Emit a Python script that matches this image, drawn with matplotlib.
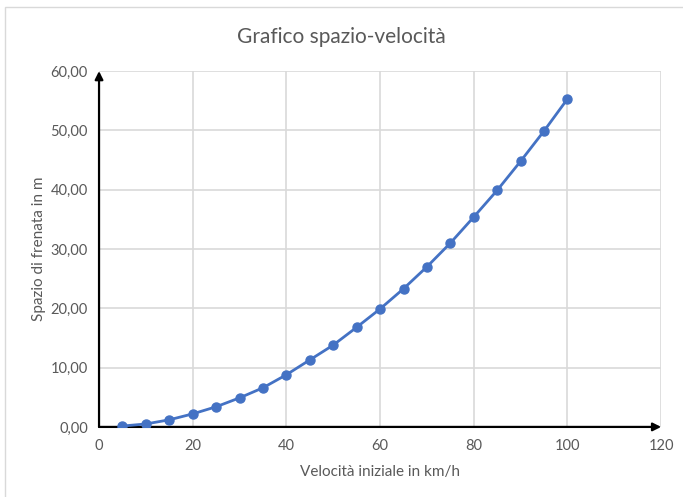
import matplotlib.pyplot as plt
from matplotlib.patches import Rectangle

# velocità iniziale (km/h) e spazio di frenata (m)
velocita = [5, 10, 15, 20, 25, 30, 35, 40, 45, 50,
            55, 60, 65, 70, 75, 80, 85, 90, 95, 100]
spazio = [0.15, 0.5, 1.2, 2.2, 3.4, 4.9, 6.6, 8.8, 11.3, 13.8,
          16.8, 19.9, 23.3, 27.0, 31.0, 35.4, 39.9, 44.8, 49.9, 55.3]

x_ticks = [0, 20, 40, 60, 80, 100, 120]
y_ticks = [0, 10, 20, 30, 40, 50, 60]

plt.rcParams['font.family'] = ['Lato', 'DejaVu Sans']
GREY = '#595959'
GRID = '#d9d9d9'
BLUE = '#4472C4'

fig = plt.figure(figsize=(6.83, 4.97), dpi=100)
ax = fig.add_axes([0.145, 0.141, 0.823, 0.716])

# outer chart frame
fig.patches.append(Rectangle((5 / 683, -0.1), 1.2, 1 - 7 / 497 + 0.1,
                             transform=fig.transFigure, fill=False,
                             edgecolor=GRID, linewidth=1.0))

ax.plot(velocita, spazio, color=BLUE, linewidth=2, marker='o',
        markersize=6.5, zorder=4)

ax.set_xlim(0, 120)
ax.set_ylim(0, 60)
ax.set_xticks(x_ticks)
ax.set_yticks(y_ticks)
ax.set_yticklabels([f"{v:.2f}".replace('.', ',') for v in y_ticks])
ax.grid(True, color=GRID, linewidth=1.2)
ax.set_axisbelow(True)
for s in ax.spines.values():
    s.set_visible(False)
ax.tick_params(length=0, colors=GREY, labelsize=10.5, pad=8)
ax.tick_params(axis='x', pad=9)

# axes with arrows
arrow = dict(arrowstyle='-|>', color='black', linewidth=1.6,
             mutation_scale=12, shrinkA=0, shrinkB=0)
ax.annotate('', xy=(0, 60), xytext=(0, 0), arrowprops=arrow,
            annotation_clip=False, zorder=3)
ax.annotate('', xy=(120, 0), xytext=(0, 0), arrowprops=arrow,
            annotation_clip=False, zorder=3)

ax.set_xlabel("Velocità iniziale in km/h", color=GREY, fontsize=11, labelpad=8)
ax.set_ylabel("Spazio di frenata in m", color=GREY, fontsize=11, labelpad=3)
fig.text(0.5, 0.925, "Grafico spazio-velocità", ha='center', va='center',
         color=GREY, fontsize=15)

fig.savefig("out.png", dpi=100)
